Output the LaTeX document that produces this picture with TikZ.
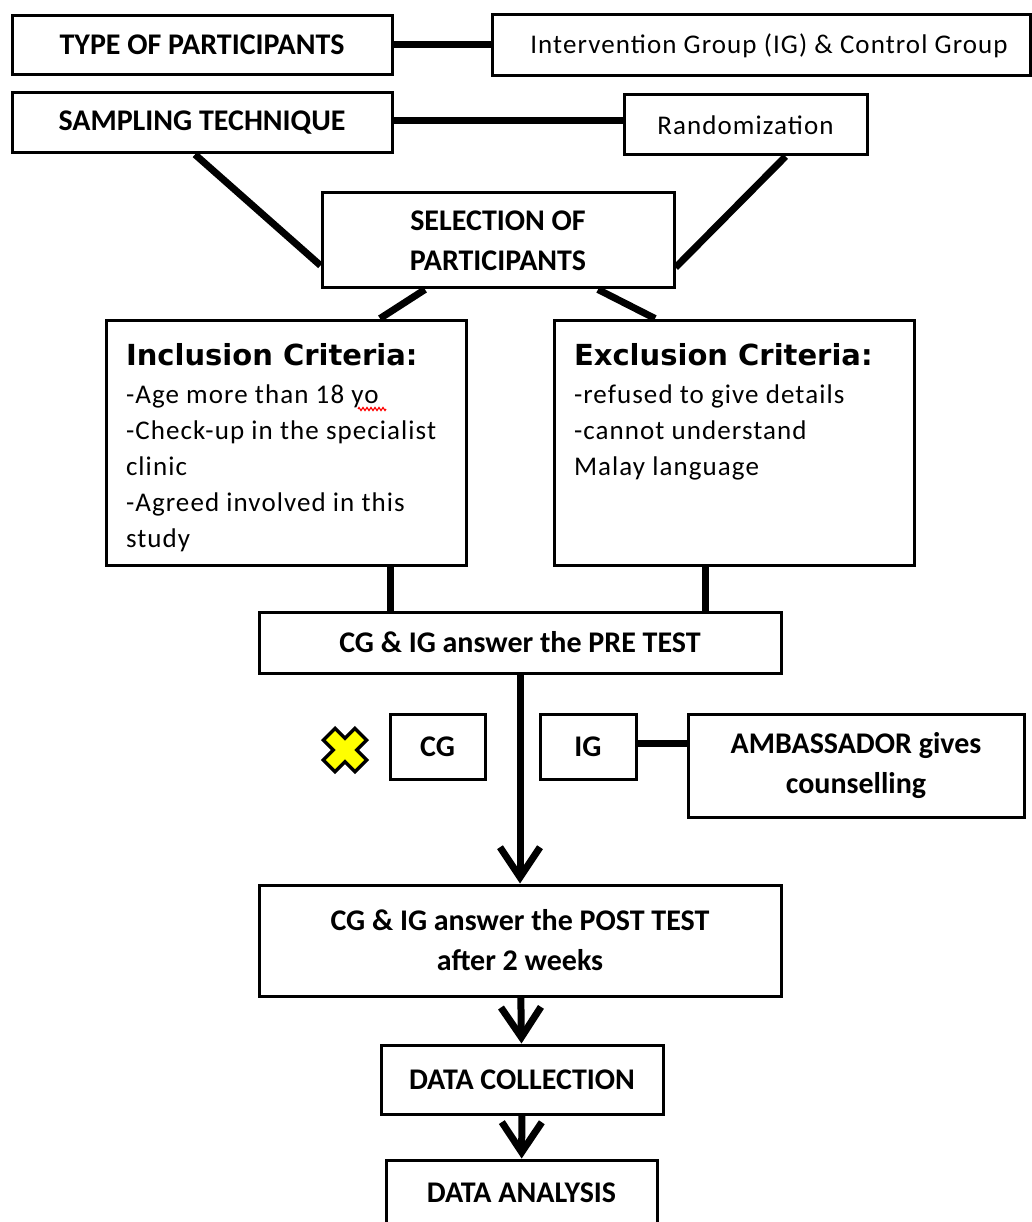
\documentclass[tikz,border=0pt]{standalone}
\usepackage{fontspec}
\setmainfont{Carlito}
\newfontfamily\bodyfont[LetterSpace=4]{Carlito}
\newfontfamily\headfont{DejaVu Sans}
\usepackage{tikz}
\usetikzlibrary{arrows.meta, decorations.pathmorphing}
\definecolor{markyellow}{rgb}{1, 1, 0}

\begin{document}
\begin{tikzpicture}[x = 1pt, y = -1pt,
  box/.style = {draw, line width = 3pt, inner sep = 0pt, align = center,
    font = \fontsize{30}{40}\selectfont\bfseries},
  plain/.style = {box, font = \fontsize{27}{40}\selectfont\bodyfont},
  link/.style = {line width = 7pt},
  arr/.style = {line width = 7pt, -{Straight Barb[length = 30pt, width = 40pt]}}]

\useasboundingbox (0, 0) rectangle (1032, 1222);

\node [box, minimum width = 380, minimum height = 59] (type) at (202, 45) {TYPE OF PARTICIPANTS};
\node [plain, minimum width = 538, minimum height = 61] (groups) at (761, 45.5) {\hspace{16pt}Intervention Group (IG) \& Control Group};
\node [box, minimum width = 380, minimum height = 60] (sampling) at (202, 123) {SAMPLING TECHNIQUE};
\node [plain, minimum width = 243, minimum height = 60] (random) at (745.5, 125) {Randomization};
\node [box, minimum width = 352, minimum height = 95] (select) at (498, 240.5) {SELECTION OF\\PARTICIPANTS};

\node [plain, minimum width = 360, minimum height = 245, align = left] (incl) at (286, 442.5)
  {\parbox[c][222pt][t]{320pt}{\fontsize{27}{36}\selectfont\bodyfont
   {\fontsize{29}{36}\selectfont\headfont\bfseries\rule{0pt}{34pt}Inclusion Criteria:}\\[2pt]
   -Age more than 18 yo\\
   -Check-up in the specialist\\
   clinic\\
   -Agreed involved in this\\
   study}};
\node [plain, minimum width = 360, minimum height = 245, align = left] (excl) at (734, 442.5)
  {\parbox[c][222pt][t]{320pt}{\fontsize{27}{36}\selectfont\bodyfont
   {\fontsize{29}{36}\selectfont\headfont\bfseries\rule{0pt}{34pt}Exclusion Criteria:}\\[2pt]
   -refused to give details\\
   -cannot understand\\
   Malay language}};

\node [box, minimum width = 522, minimum height = 61] (pre) at (520, 642.5) {CG \& IG answer the PRE TEST};
\node [box, minimum width = 95, minimum height = 65] (cg) at (437.5, 746.5) {CG};
\node [box, minimum width = 96, minimum height = 65] (ig) at (588, 746.5) {IG};
\node [box, minimum width = 336, minimum height = 103] (amb) at (856, 765.5) {AMBASSADOR gives\\counselling};
\node [box, minimum width = 522, minimum height = 111] (post) at (520, 940.5) {CG \& IG answer the POST TEST\\after 2 weeks};
\node [box, minimum width = 282, minimum height = 69] (collect) at (522, 1079.5) {DATA COLLECTION};
\node [box, minimum width = 271, minimum height = 66] (analysis) at (521.5, 1193) {DATA ANALYSIS};

\draw [link] (type.east) -- (groups.west |- type.east);
\draw [link] ([yshift = 2]sampling.east) -- ([yshift = 2]sampling.east -| random.west);
\draw [link] ([xshift = -7]sampling.south) -- ([yshift = -25]select.west);
\draw [link] ([xshift = 40]random.south) -- ([yshift = -27]select.east);
\draw [link] ([xshift = -73]select.south) -- ([xshift = 94]incl.north);
\draw [link] ([xshift = 100]select.south) -- ([xshift = -79]excl.north);
\draw [link] ([xshift = 104]incl.south) -- ([xshift = 104]incl.south |- pre.north);
\draw [link] ([xshift = -29]excl.south) -- ([xshift = -29]excl.south |- pre.north);
\draw [link] ([yshift = 3]ig.east) -- ([yshift = 3]ig.east -| amb.west);

\draw [arr] (pre) -- (post);
\draw [arr] (post) -- (collect);
\draw [arr] (collect) -- (analysis);

\coordinate (mark) at (345, 750);
\draw [line width = 20pt] ([shift = {(-17, -17)}]mark) -- ([shift = {(17, 17)}]mark);
\draw [line width = 20pt] ([shift = {(-17, 17)}]mark) -- ([shift = {(17, -17)}]mark);
\draw [line width = 13pt, markyellow] ([shift = {(-14.5, -14.5)}]mark) -- ([shift = {(14.5, 14.5)}]mark);
\draw [line width = 13pt, markyellow] ([shift = {(-14.5, 14.5)}]mark) -- ([shift = {(14.5, -14.5)}]mark);

\draw [red, line width = 1.2pt, decorate, decoration = {zigzag, amplitude = 1.5pt, segment length = 4pt}] (358, 409) -- (386, 409);

\end{tikzpicture}
\end{document}
